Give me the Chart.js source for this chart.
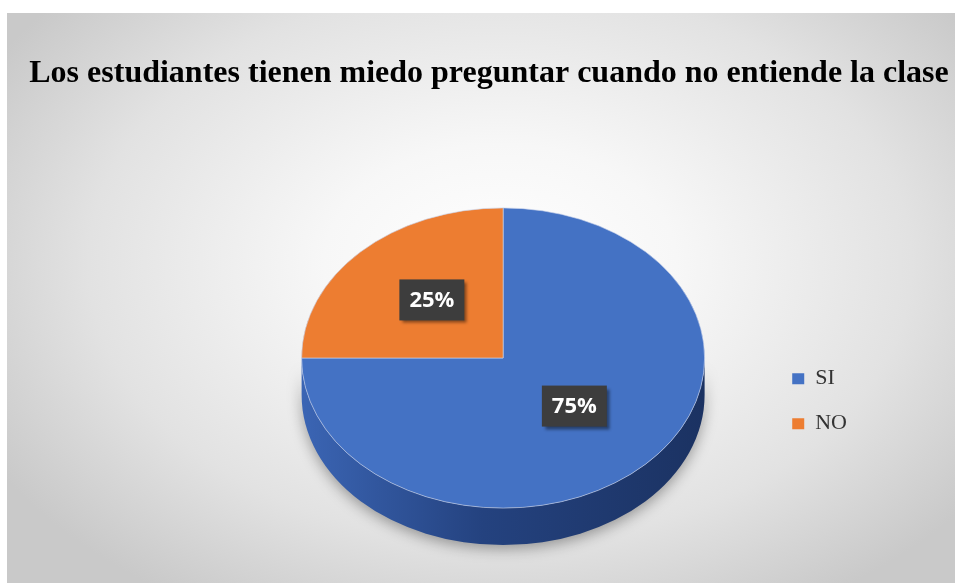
<!DOCTYPE html>
<html lang="es">
<head>
  <meta charset="UTF-8" />
  <title>Miedo a preguntar</title>
  <script src="https://cdn.jsdelivr.net/npm/chart.js"></script>
  <style>
    body { margin: 0; background: #fff; }
    .frame {
      position: absolute; left: 7px; top: 13px; width: 948px; height: 570px;
      background: radial-gradient(ellipse 62% 70% at 52% 44%, #ffffff 0%, #f7f7f7 30%, #e2e2e2 70%, #c9c9c9 100%);
    }
  </style>
</head>
<body>
  <div class="frame"><canvas id="chart" width="948" height="570"></canvas></div>

  <script>
    const categories = ['SI', 'NO'];
    const values = [75, 25];   // porcentajes

    // empty layout box, only reserves room beside the pie
    function spacer(position, size) {
      return {
        id: 'spacer-' + position,
        beforeInit(chart) {
          Chart.layouts.addBox(chart, {
            position: position,
            weight: 2000,
            fullSize: false,
            options: {},
            isHorizontal() { return false; },
            update(maxWidth, maxHeight) { this.width = size; this.height = maxHeight; },
            draw() {}
          });
        }
      };
    }

    // flattens the pie into an ellipse and adds the side wall + value boxes
    const pie3d = {
      id: 'pie3d',
      beforeDatasetsDraw(chart, args, opts) {
        const ctx = chart.ctx;
        const arc = chart.getDatasetMeta(0).data[0];
        const x = arc.x, y = arc.y, r = arc.outerRadius;
        const k = opts.tilt;
        const d = opts.depth / k;

        ctx.save();
        ctx.translate(x, y);
        ctx.scale(1, k);
        ctx.translate(-x, -y);

        const g = ctx.createLinearGradient(x - r, 0, x + r, 0);
        g.addColorStop(0, '#3b65b4');
        g.addColorStop(0.45, '#24427f');
        g.addColorStop(1, '#1b3262');
        ctx.save();
        ctx.shadowColor = 'rgba(0,0,0,0.35)';
        ctx.shadowBlur = 14;
        ctx.shadowOffsetY = 4;
        ctx.beginPath();
        ctx.moveTo(x + r, y);
        ctx.lineTo(x + r, y + d);
        ctx.arc(x, y + d, r, 0, Math.PI);
        ctx.lineTo(x - r, y);
        ctx.arc(x, y, r, Math.PI, 0, true);
        ctx.closePath();
        ctx.fillStyle = g;
        ctx.fill();
        ctx.restore();
      },
      afterDatasetsDraw(chart, args, opts) {
        const ctx = chart.ctx;
        ctx.restore();

        const meta = chart.getDatasetMeta(0);
        const data = chart.data.datasets[0].data;
        const total = data.reduce((a, b) => a + b, 0);
        ctx.save();
        ctx.font = 'bold 22px "Open Sans", sans-serif';
        ctx.textAlign = 'center';
        ctx.textBaseline = 'middle';
        meta.data.forEach((arc, i) => {
          const mid = (arc.startAngle + arc.endAngle) / 2;
          const dist = arc.outerRadius * 0.5;
          const px = arc.x + Math.cos(mid) * dist;
          const py = arc.y + Math.sin(mid) * dist * opts.tilt - 5;
          const label = Math.round(data[i] / total * 100) + '%';
          const w = ctx.measureText(label).width + 20;
          const h = 41;
          ctx.save();
          ctx.shadowColor = 'rgba(0,0,0,0.45)';
          ctx.shadowBlur = 3;
          ctx.shadowOffsetX = 3;
          ctx.shadowOffsetY = 3;
          ctx.fillStyle = '#3d3d3d';
          ctx.fillRect(px - w / 2, py - h / 2, w, h);
          ctx.restore();
          ctx.fillStyle = '#ffffff';
          ctx.fillText(label, px, py + 1);
        });
        ctx.restore();
      }
    };

    new Chart(document.getElementById('chart'), {
      type: 'pie',
      data: {
        labels: categories,
        datasets: [{
          data: values,
          backgroundColor: ['#4472c4', '#ed7d31'],
          borderColor: 'rgba(200,210,235,0.7)',
          borderWidth: 1
        }]
      },
      options: {
        responsive: false,
        animation: false,
        layout: { padding: { left: 16, right: 0, top: 0, bottom: 23 } },
        plugins: {
          title: {
            display: true,
            text: 'Los estudiantes tienen miedo preguntar cuando no entiende la clase',
            color: '#000',
            font: { family: '"Liberation Serif", "Times New Roman", serif', size: 32, weight: 'bold', lineHeight: 1.2 },
            padding: { top: 42, bottom: 62.6 }
          },
          legend: {
            position: 'right',
            fullSize: false,
            // empty title just pushes the items a bit below the middle
            title: { display: true, text: '', padding: { top: 72, bottom: 0 } },
            labels: {
              color: '#333',
              font: { family: '"Liberation Serif", "Times New Roman", serif', size: 22 },
              boxWidth: 12,
              boxHeight: 11,
              padding: 23,
              generateLabels(chart) {
                return Chart.overrides.pie.plugins.legend.labels.generateLabels(chart)
                  .map(l => Object.assign(l, { lineWidth: 0 }));
              }
            }
          },
          tooltip: { enabled: false },
          pie3d: { tilt: 0.745, depth: 37 }
        }
      },
      plugins: [pie3d, spacer('left', 214), spacer('right', 98)]
    });
  </script>
</body>
</html>
